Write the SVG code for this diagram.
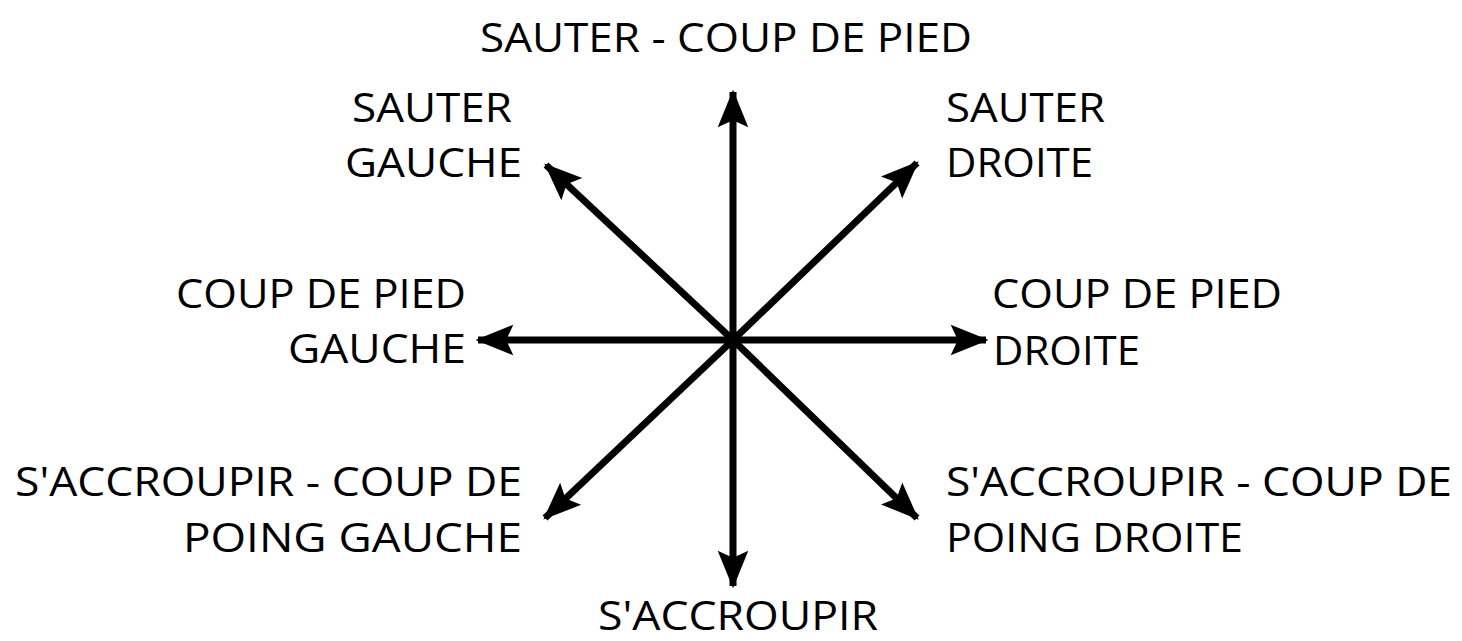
<svg xmlns="http://www.w3.org/2000/svg" width="1462" height="641" viewBox="0 0 1462 641">
<defs>
<style>
text{font-family:"Open Sans","Noto Sans","Liberation Sans",sans-serif;font-size:40px;fill:#000;}
.c{stroke:#000;stroke-width:7;fill:none;marker-end:url(#ah);}
</style>
<marker id="ah" markerUnits="userSpaceOnUse" markerWidth="40" markerHeight="40" viewBox="-32 -14 34 28" refX="0" refY="0" orient="auto">
<path d="M2,0 L-30,-13 L-24,0 L-30,13 Z" fill="#000"/>
</marker>
</defs>
<rect width="1462" height="641" fill="#fff"/>
<g id="connectors">
<line class="c" x1="733" y1="340" x2="733" y2="92"/>
<line class="c" x1="733" y1="340" x2="733" y2="586"/>
<line class="c" x1="733" y1="340" x2="478" y2="340"/>
<line class="c" x1="733" y1="340" x2="986" y2="340"/>
<line class="c" x1="733" y1="340" x2="546" y2="165"/>
<line class="c" x1="733" y1="340" x2="917" y2="163"/>
<line class="c" x1="733" y1="340" x2="545" y2="518"/>
<line class="c" x1="733" y1="340" x2="917" y2="518"/>
<circle cx="733" cy="340" r="8" fill="#000"/>
</g>
<g id="n-up"><text x="480" y="52" textLength="492" lengthAdjust="spacingAndGlyphs">SAUTER - COUP DE PIED</text></g>
<g id="n-upleft">
<text x="352" y="122" textLength="160" lengthAdjust="spacingAndGlyphs">SAUTER</text>
<text x="345" y="177" textLength="177" lengthAdjust="spacingAndGlyphs">GAUCHE</text>
</g>
<g id="n-upright">
<text x="946" y="122" textLength="159" lengthAdjust="spacingAndGlyphs">SAUTER</text>
<text x="946" y="177" textLength="147" lengthAdjust="spacingAndGlyphs">DROITE</text>
</g>
<g id="n-left">
<text x="176" y="308" textLength="290" lengthAdjust="spacingAndGlyphs">COUP DE PIED</text>
<text x="288" y="363" textLength="178" lengthAdjust="spacingAndGlyphs">GAUCHE</text>
</g>
<g id="n-right">
<text x="992" y="308" textLength="290" lengthAdjust="spacingAndGlyphs">COUP DE PIED</text>
<text x="993" y="365" textLength="147" lengthAdjust="spacingAndGlyphs">DROITE</text>
</g>
<g id="n-downleft">
<text x="15" y="496" textLength="507" lengthAdjust="spacingAndGlyphs">S'ACCROUPIR - COUP DE</text>
<text x="183" y="552" textLength="339" lengthAdjust="spacingAndGlyphs">POING GAUCHE</text>
</g>
<g id="n-downright">
<text x="946" y="496" textLength="506" lengthAdjust="spacingAndGlyphs">S'ACCROUPIR - COUP DE</text>
<text x="946" y="552" textLength="297" lengthAdjust="spacingAndGlyphs">POING DROITE</text>
</g>
<g id="n-down"><text x="598" y="630" textLength="280" lengthAdjust="spacingAndGlyphs">S'ACCROUPIR</text></g>
</svg>
